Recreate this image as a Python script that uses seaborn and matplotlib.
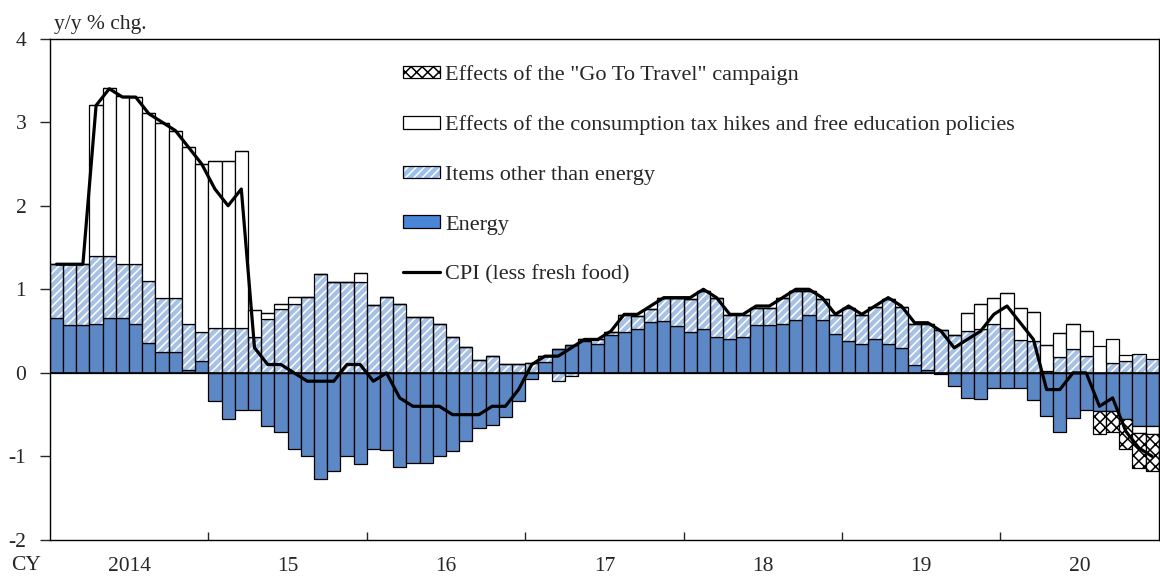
import numpy as np
import matplotlib
matplotlib.use('Agg')
import matplotlib.pyplot as plt
import matplotlib.patches as mpatches
from matplotlib.lines import Line2D
from matplotlib.legend_handler import HandlerTuple
import seaborn as sns

# Monthly contributions, Jan 2014 - Dec 2020 (y/y % chg.)
years = ['2014', '15', '16', '17', '18', '19', '20']

energy = [
    0.66, 0.57, 0.57, 0.58, 0.66, 0.66, 0.58, 0.36, 0.25, 0.25, 0.04, 0.14,
    -0.34, -0.55, -0.44, -0.44, -0.63, -0.71, -0.91, -0.99, -1.27, -1.18, -0.99, -1.09,
    -0.91, -0.92, -1.13, -1.08, -1.08, -1.00, -0.93, -0.82, -0.66, -0.62, -0.53, -0.34,
    -0.07, 0.13, 0.29, 0.33, 0.38, 0.35, 0.45, 0.49, 0.53, 0.61, 0.62, 0.56,
    0.49, 0.53, 0.43, 0.40, 0.43, 0.57, 0.57, 0.58, 0.63, 0.69, 0.63, 0.47,
    0.38, 0.34, 0.40, 0.35, 0.30, 0.09, 0.04, -0.01, -0.16, -0.30, -0.31, -0.18,
    -0.18, -0.18, -0.32, -0.52, -0.71, -0.54, -0.44, -0.46, -0.46, -0.55, -0.63, -0.64,
]

other_items = [
    0.64, 0.73, 0.73, 0.82, 0.74, 0.64, 0.72, 0.74, 0.65, 0.65, 0.55, 0.35,
    0.54, 0.54, 0.54, 0.43, 0.64, 0.77, 0.82, 0.91, 1.18, 1.09, 1.09, 1.09,
    0.81, 0.91, 0.83, 0.67, 0.67, 0.59, 0.43, 0.31, 0.15, 0.20, 0.11, 0.11,
    0.12, 0.07, -0.10, -0.04, 0.02, 0.06, 0.04, 0.20, 0.15, 0.15, 0.27, 0.33,
    0.39, 0.45, 0.46, 0.29, 0.26, 0.21, 0.21, 0.31, 0.35, 0.29, 0.25, 0.22,
    0.40, 0.35, 0.39, 0.53, 0.49, 0.50, 0.54, 0.51, 0.45, 0.50, 0.52, 0.59,
    0.54, 0.39, 0.38, 0.02, 0.19, 0.28, 0.20, 0.00, 0.12, 0.14, 0.22, 0.16,
]

tax_education = [
    0, 0, 0, 1.81, 2.01, 2.01, 2.00, 2.01, 2.09, 1.99, 2.11, 2.01,
    2.00, 2.00, 2.11, 0.32, 0.08, 0.06, 0.09, 0, 0, 0, 0, 0.11,
    0, 0, 0, 0, 0, 0, 0, 0, 0, 0, 0, 0,
    0, 0, 0, 0, 0, 0, 0, 0, 0, 0, 0, 0,
    0, 0, 0, 0, 0, 0, 0, 0, 0, 0, 0, 0,
    0, 0, 0, 0, 0, 0, 0, 0, 0, 0.22, 0.30, 0.31,
    0.41, 0.39, 0.35, 0.31, 0.29, 0.31, 0.30, 0.32, 0.29, 0.07, -0.09, -0.09,
]

go_to_travel = [0] * 79 + [-0.27, -0.25, -0.36, -0.42, -0.44]

cpi = [
    1.3, 1.3, 1.3, 3.2, 3.4, 3.3, 3.3, 3.1, 3.0, 2.9, 2.7, 2.5,
    2.2, 2.0, 2.2, 0.3, 0.1, 0.1, 0.0, -0.1, -0.1, -0.1, 0.1, 0.1,
    -0.1, 0.0, -0.3, -0.4, -0.4, -0.4, -0.5, -0.5, -0.5, -0.4, -0.4, -0.2,
    0.1, 0.2, 0.2, 0.3, 0.4, 0.4, 0.5, 0.7, 0.7, 0.8, 0.9, 0.9,
    0.9, 1.0, 0.9, 0.7, 0.7, 0.8, 0.8, 0.9, 1.0, 1.0, 0.9, 0.7,
    0.8, 0.7, 0.8, 0.9, 0.8, 0.6, 0.6, 0.5, 0.3, 0.4, 0.5, 0.7,
    0.8, 0.6, 0.4, -0.2, -0.2, 0.0, 0.0, -0.4, -0.3, -0.7, -0.9, -1.0,
]

BLUE = '#4a86d8'
LIGHT = '#9cc0ee'

sns.set_style('ticks')
plt.rcParams['font.family'] = ['Liberation Serif', 'DejaVu Serif']
plt.rcParams['axes.unicode_minus'] = False
plt.rcParams['hatch.linewidth'] = 1.1

months = np.arange(len(cpi))

# stack positive parts upward and negative parts downward from zero
series = [energy, other_items, tax_education, go_to_travel]
pos = np.zeros(len(months))
neg = np.zeros(len(months))
bottoms = []
for s in series:
    s = np.asarray(s, dtype=float)
    bottoms.append(np.where(s >= 0, pos, neg))
    pos = pos + np.clip(s, 0, None)
    neg = neg + np.clip(s, None, 0)

fig, ax = plt.subplots(figsize=(11.6, 5.76), dpi=100)
fig.subplots_adjust(left=0.043, right=0.999, top=0.933, bottom=0.0625)

common = dict(x=months, orient='x', native_scale=True, width=1, errorbar=None, ax=ax)
edge = dict(edgecolor='black', linewidth=0.9)

sns.barplot(y=energy, bottom=bottoms[0], color=BLUE, **edge, **common)
sns.barplot(y=other_items, bottom=bottoms[1], color=LIGHT, edgecolor='white',
            linewidth=0, hatch='////', **common)
sns.barplot(y=other_items, bottom=bottoms[1], color='black', fill=False,
            linewidth=0.9, **common)
sns.barplot(y=tax_education, bottom=bottoms[2], color='white', **edge, **common)
sns.barplot(y=go_to_travel, bottom=bottoms[3], color='white', hatch='xxx', **edge, **common)

ax.axhline(0, color='black', linewidth=1.2, zorder=3)
sns.lineplot(x=months, y=cpi, color='black', linewidth=2.3, ax=ax, zorder=4)

ax.set_xlim(-0.5, len(months) - 0.5)
ax.set_ylim(-2, 4)
ax.set_yticks(range(-2, 5))
ax.set_xticks(np.arange(12, len(months), 12) - 0.5)
ax.set_xticklabels([])
ax.set_xticks(np.arange(5.5, len(months), 12), labels=years, minor=True)
ax.tick_params(axis='x', which='major', direction='in', length=6, width=1)
ax.tick_params(axis='x', which='minor', length=0, pad=12, labelsize=15.5)
ax.tick_params(axis='y', direction='out', length=7, width=1, pad=10, labelsize=15.5)
ax.set_xlabel('')
ax.set_ylabel('')
for sp in ax.spines.values():
    sp.set_visible(True)
    sp.set_color('black')
    sp.set_linewidth(1.0)

fig.text(54 / 1160, 1 - 24 / 576, 'y/y % chg.', fontsize=15.5, ha='left', va='center')
fig.text(11 / 1160, 1 - 566 / 576, 'CY', fontsize=15.5, ha='left', va='center')

handles = [
    mpatches.Patch(facecolor='white', hatch='xxx', **edge),
    mpatches.Patch(facecolor='white', **edge),
    (mpatches.Patch(facecolor=LIGHT, edgecolor='white', hatch='////', linewidth=0),
     mpatches.Patch(facecolor='none', **edge)),
    mpatches.Patch(facecolor=BLUE, **edge),
    Line2D([], [], color='black', linewidth=2.3),
]
labels = [
    'Effects of the "Go To Travel" campaign',
    'Effects of the consumption tax hikes and free education policies',
    'Items other than energy',
    'Energy',
    'CPI (less fresh food)',
]
ax.legend(handles, labels, handler_map={tuple: HandlerTuple(ndivide=1, pad=0)},
          loc='upper left', bbox_to_anchor=(403 / 1160, 1 - 65 / 576),
          bbox_transform=fig.transFigure, frameon=False, fontsize=16,
          handlelength=1.67, handleheight=0.5, handletextpad=0.22,
          labelspacing=1.37, borderpad=0, borderaxespad=0)

fig.savefig('out.png', dpi=100)
